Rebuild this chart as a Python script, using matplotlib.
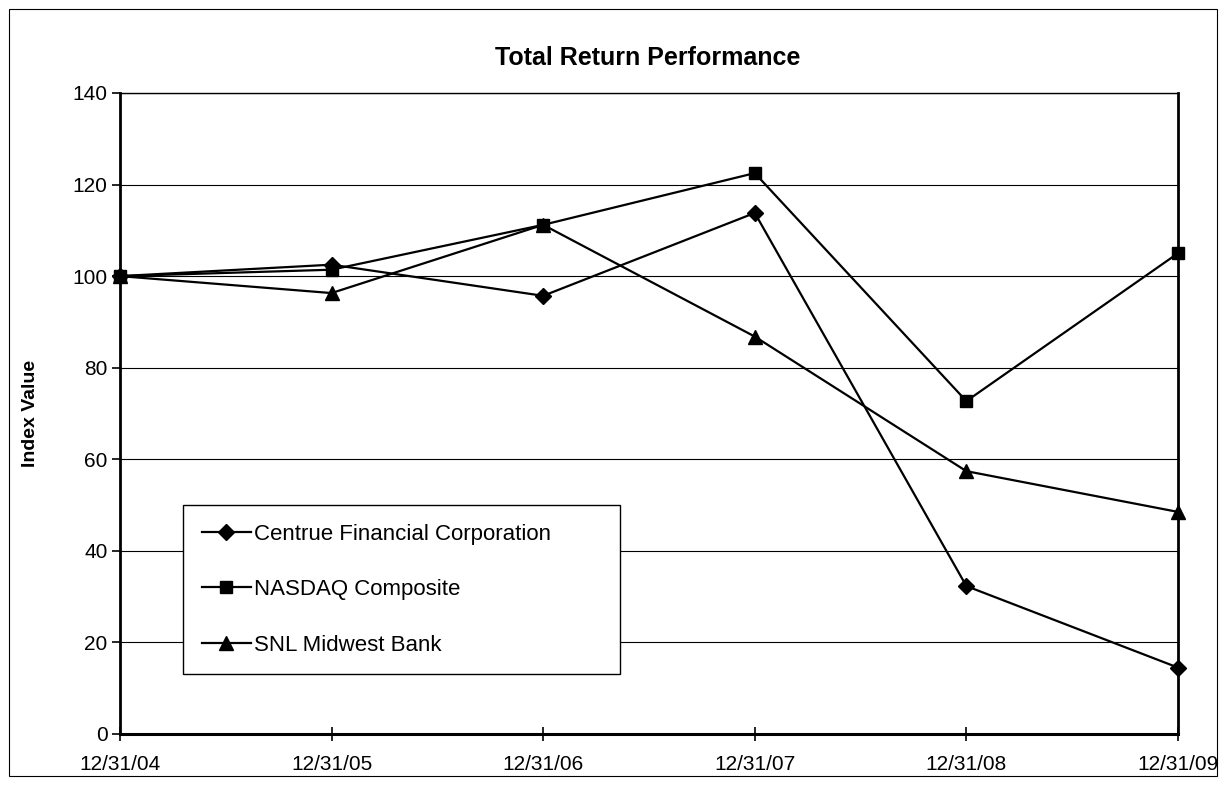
import numpy as np
import matplotlib
matplotlib.use("Agg")
from matplotlib import pyplot as plt

plt.rcParams['font.family'] = ['Liberation Sans', 'DejaVu Sans']

dates = ["12/31/04", "12/31/05", "12/31/06", "12/31/07", "12/31/08", "12/31/09"]
centrue = [100, 102.5, 95.7, 113.8, 32.3, 14.5]
nasdaq = [100, 101.4, 111.2, 122.5, 72.7, 105.0]
snl_midwest = [100, 96.3, 111.2, 86.8, 57.4, 48.5]

fig = plt.figure(figsize=(12.24, 7.86), dpi=100)
ax = fig.add_axes([0.098, 0.0662, 0.8644, 0.8155])

x = np.arange(len(dates))
ax.plot(x, centrue, color='black', lw=1.6, marker='D', ms=8, clip_on=False, label="Centrue Financial Corporation")
ax.plot(x, nasdaq, color='black', lw=1.6, marker='s', ms=9, clip_on=False, label="NASDAQ Composite")
ax.plot(x, snl_midwest, color='black', lw=1.6, marker='^', ms=10, clip_on=False, label="SNL Midwest Bank")

ax.set_xlim(0, len(dates) - 1)
ax.set_ylim(0, 140)
ax.set_yticks(range(0, 141, 20))
ax.set_xticks(x)
ax.set_xticklabels(dates)
ax.tick_params(axis='x', direction='inout', length=10, width=1.2, labelsize=15, pad=10)
ax.tick_params(axis='y', direction='out', length=6, width=1.2, labelsize=15, pad=3)
ax.yaxis.grid(True, color='black', lw=0.8)
ax.set_axisbelow(True)
for s in ax.spines.values():
    s.set_linewidth(1.0)
ax.spines['left'].set_linewidth(2)
ax.spines['bottom'].set_linewidth(2.2)
ax.spines['right'].set_linewidth(2)

ax.set_ylabel("Index Value", fontsize=14, fontweight='bold', labelpad=24)
fig.text(0.529, 0.917, "Total Return Performance", fontsize=18, fontweight='bold', ha='center')

leg = ax.legend(loc='upper left', bbox_to_anchor=(0.0595, 0.0905, 0.413, 0.267), mode='expand',
                fontsize=16, fancybox=False, edgecolor='black', framealpha=1, handlelength=2.2,
                labelspacing=1.55, borderpad=0.85, handletextpad=0.15, borderaxespad=0)
leg.get_frame().set_linewidth(1.0)

# thin border around the whole picture
fig.patches.append(plt.Rectangle((0.007, 0.013), 0.987, 0.975, transform=fig.transFigure,
                                 fill=False, edgecolor='black', lw=0.8))

fig.savefig("out.png", dpi=100)
